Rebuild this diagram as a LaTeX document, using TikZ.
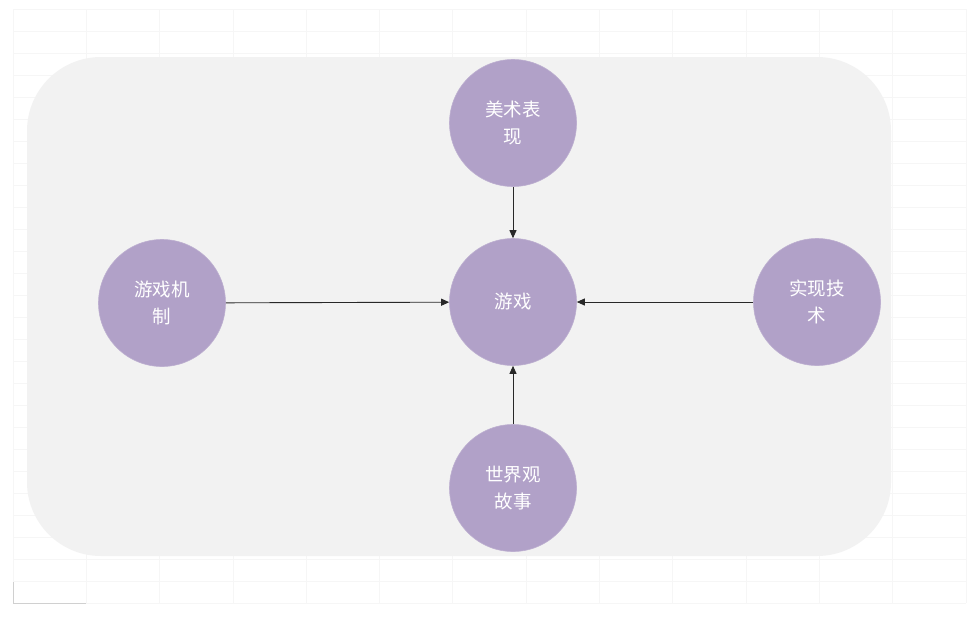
\documentclass[tikz,border=0pt]{standalone}
\usepackage{fontspec}
\newfontfamily\cjk{Noto Sans CJK SC}
\usetikzlibrary{arrows.meta}
\definecolor{panelgray}{RGB}{242,242,242}
\definecolor{gridgray}{RGB}{246,246,246}
\definecolor{cellgray}{RGB}{208,208,208}
\definecolor{topic}{RGB}{177,161,200}
\definecolor{linkgray}{RGB}{40,40,40}
\tikzset{
  topicnode/.style={circle, fill=topic, draw=topic!85!white, line width=0.6pt,
    minimum size=127pt, inner sep=0pt, text=white, align=center,
    font=\cjk\fontsize{18.5}{27}\selectfont},
  link/.style={draw=linkgray, line width=0.9pt, -{Triangle[length=8pt,width=7pt]}}
}
\begin{document}
\begin{tikzpicture}[x=1pt,y=-1pt]
  \useasboundingbox (0,0) rectangle (973,616);
  \fill[white] (0,0) rectangle (973,616);
  % sheet grid behind the panel
  \foreach \k in {0,...,13}
    \draw[gridgray, line width=0.8pt] ({13+73.3*\k},9) -- ({13+73.3*\k},603);
  \foreach \k in {0,...,27}
    \draw[gridgray, line width=0.8pt] (13,{9+22*\k}) -- (966,{9+22*\k});
  \draw[cellgray, line width=0.8pt] (13,582) -- (13,603) -- (86,603);
  % panel
  \fill[panelgray, rounded corners=74pt] (27,57) rectangle (891,556);
  % topics
  \node[topicnode] (game)  at (513,302) {游戏};
  \node[topicnode] (art)   at (513,123) {美术表\\现};
  \node[topicnode] (mech)  at (162,303) {游戏机\\制};
  \node[topicnode] (tech)  at (817,302) {实现技\\术};
  \node[topicnode] (story) at (513,488) {世界观\\故事};
  % links
  \draw[link] (art) -- (game);
  \draw[link] (mech) -- (game);
  \draw[link] (tech) -- (game);
  \draw[link] (story) -- (game);
\end{tikzpicture}
\end{document}
